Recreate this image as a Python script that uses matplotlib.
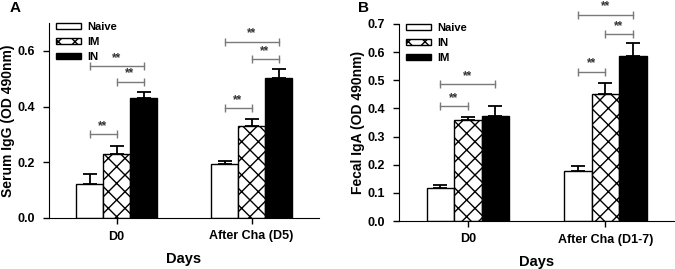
import matplotlib
matplotlib.use("Agg")
import matplotlib.pyplot as plt
import numpy as np

plt.rcParams['font.family'] = ['Liberation Sans', 'DejaVu Sans']
plt.rcParams['font.weight'] = 'bold'
plt.rcParams['hatch.linewidth'] = 1.0

# ---- Panel A data ----
A_groups = ['D0', 'After Cha (D5)']
A_series = ['Naive', 'IM', 'IN']
A_naive = [0.123, 0.194]
A_naive_err = [0.035, 0.010]
A_im = [0.228, 0.331]
A_im_err = [0.032, 0.024]
A_in = [0.430, 0.503]
A_in_err = [0.024, 0.031]
A_yticks = [0.0, 0.2, 0.4, 0.6]
A_ylabel = 'Serum IgG (OD 490nm)'
# brackets: (group index, bar i, bar j, y)
A_brackets = [(0, 0, 1, 0.300), (0, 1, 2, 0.490), (0, 0, 2, 0.545),
              (1, 0, 1, 0.394), (1, 1, 2, 0.570), (1, 0, 2, 0.633)]

# ---- Panel B data ----
B_groups = ['D0', 'After Cha (D1-7)']
B_series = ['Naive', 'IN', 'IM']
B_naive = [0.119, 0.179]
B_naive_err = [0.008, 0.016]
B_in = [0.358, 0.452]
B_in_err = [0.012, 0.037]
B_im = [0.374, 0.588]
B_im_err = [0.033, 0.044]
B_yticks = [0.0, 0.1, 0.2, 0.3, 0.4, 0.5, 0.6, 0.7]
B_ylabel = 'Fecal IgA (OD 490nm)'
B_brackets = [(0, 0, 1, 0.409), (0, 0, 2, 0.486),
              (1, 0, 1, 0.531), (1, 1, 2, 0.664), (1, 0, 2, 0.733)]

fig = plt.figure(figsize=(6.75, 2.69), dpi=100)
W, H = 675, 269
axA = fig.add_axes([49 / W, 1 - 218 / H, (319 - 49) / W, (218 - 23) / H])
axB = fig.add_axes([399 / W, 1 - 221 / H, (674 - 399) / W, (221 - 24) / H])

styles = [dict(facecolor='white', hatch=None),
          dict(facecolor='white', hatch='xx'),
          dict(facecolor='black', hatch=None)]
centers = np.array([0.0, 5.0])
offsets = [-1.0, 0.0, 1.0]
width = 1.0


def draw(ax, groups, series, vals, errs, yticks, ylabel, brackets, fmt):
    for k, (name, v, e) in enumerate(zip(series, vals, errs)):
        x = centers + offsets[k]
        st = styles[k]
        ax.bar(x, v, width, color=st['facecolor'], edgecolor='black',
               linewidth=1.0, hatch=st['hatch'], label=name, zorder=2)
        ax.errorbar(x, v, yerr=[np.zeros(len(v)), e], fmt='none',
                    ecolor='black', elinewidth=1.3, capsize=5, capthick=1.3,
                    zorder=1)
    for g, i, j, y in brackets:
        x1 = centers[g] + offsets[i]
        x2 = centers[g] + offsets[j]
        ax.plot([x1, x2], [y, y], color='#7a7a7a', lw=1.0, clip_on=False)
        ax.plot([x1, x2], [y, y], linestyle='none', marker='|', markersize=6,
                color='#7a7a7a', mew=1.0, clip_on=False)
        ax.annotate('**', xy=((x1 + x2) / 2, y), xytext=(0, 1.5),
                    textcoords='offset points', ha='center', va='bottom',
                    fontsize=8.5, color='#333333', annotation_clip=False)
    ax.set_xlim(-2.5, 7.5)
    ax.set_ylim(0, 0.7)
    ax.set_yticks(yticks)
    ax.set_yticklabels([fmt.format(t) for t in yticks])
    ax.set_xticks(centers)
    ax.set_xticklabels(groups)
    ax.spines['top'].set_visible(False)
    ax.spines['right'].set_visible(False)
    ax.tick_params(axis='both', labelsize=9, length=4, width=1.0, direction='out')
    ax.tick_params(axis='y', pad=6)
    ax.tick_params(axis='x', pad=5)
    ax.set_ylabel(ylabel, fontsize=10, fontweight='bold')
    ax.set_xlabel('Days', fontsize=10.5, fontweight='bold', labelpad=7)
    ax.legend(loc='upper left', bbox_to_anchor=(0.0, 1.04), frameon=False,
              fontsize=8, handlelength=2.3, handleheight=0.5,
              labelspacing=0.45, handletextpad=0.5, borderaxespad=0.2)


draw(axA, A_groups, A_series, [A_naive, A_im, A_in],
     [A_naive_err, A_im_err, A_in_err], A_yticks, A_ylabel, A_brackets, '{:.1f}')
draw(axB, B_groups, B_series, [B_naive, B_in, B_im],
     [B_naive_err, B_in_err, B_im_err], B_yticks, B_ylabel, B_brackets, '{:.1f}')

axA.yaxis.set_label_coords(-0.125, 0.5)
axB.yaxis.set_label_coords(-0.124, 0.5)

fig.text(10 / W, 1 - 8 / H, 'A', fontsize=11, fontweight='bold', va='center')
fig.text(358 / W, 1 - 8 / H, 'B', fontsize=11, fontweight='bold', va='center')

fig.savefig('out.png', dpi=100)
